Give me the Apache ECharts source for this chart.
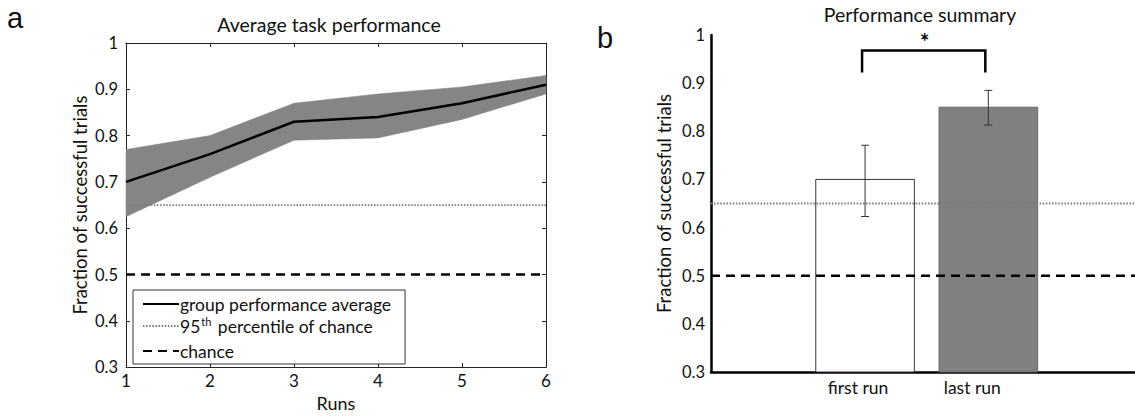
<!DOCTYPE html>
<html>
<head>
<meta charset="utf-8">
<script src="https://cdn.jsdelivr.net/npm/echarts@6/dist/echarts.min.js"></script>
<style>
html,body{margin:0;padding:0;background:#fff;}
#chart{width:1135px;height:417px;}
</style>
</head>
<body>
<div id="chart"></div>
<script>
// ---- Data ----
const runs = [1, 2, 3, 4, 5, 6];
const meanPerf = [0.70, 0.76, 0.83, 0.84, 0.87, 0.91];
const bandUpper = [0.77, 0.80, 0.87, 0.89, 0.905, 0.93];
const bandLower = [0.625, 0.71, 0.79, 0.795, 0.835, 0.89];
const chanceLevel = 0.5;
const chance95 = 0.65;

const summaryCats = ['first run', 'last run'];
const summaryPos = [1, 2];
const summaryMeans = [0.70, 0.85];
const summaryErrLow = [0.623, 0.813];
const summaryErrHigh = [0.771, 0.885];
const sigPair = [1, 2];
const sigLabel = '*';

const legendNames = ['group performance average', '95th percentile of chance', 'chance'];

// ---- Layout / style constants ----
const FONT = 'Lato';
const rightXMin = -0.25, rightXMax = 3.19;
const leftXMin = 1, leftXMax = 6;
const noSymbol = {color: 'rgba(0,0,0,0)', opacity: 0};
const dotStyle = {color: '#7a7a7a', width: 1.8, type: [1.5, 1.6]};
const dashStyle = {color: '#000', width: 2.5, type: [9, 6]};

const chart = echarts.init(document.getElementById('chart'), null, {renderer: 'svg'});

const meanData = runs.map((r, i) => [r, meanPerf[i]]);

const boxAxis = {
  axisLine: {show: true, onZero: false, lineStyle: {color: '#222', width: 1}},
  axisTick: {show: true, inside: true, length: 4, lineStyle: {color: '#222'}},
  splitLine: {show: false}
};

const option = {
  animation: false,
  textStyle: {fontFamily: FONT},
  grid: [
    {left: 126, top: 43, width: 420, height: 330},
    {left: 711, top: 35, right: 0, bottom: 45}
  ],
  xAxis: [
    Object.assign({}, boxAxis, {
      gridIndex: 0, type: 'value', min: leftXMin, max: leftXMax, interval: 1, position: 'bottom',
      axisLabel: {fontSize: 17, color: '#111', margin: 5, fontFamily: FONT},
      name: 'Runs', nameLocation: 'middle', nameGap: 25,
      nameTextStyle: {fontSize: 18, color: '#111', fontFamily: FONT}
    }),
    Object.assign({}, boxAxis, {
      gridIndex: 0, type: 'value', min: leftXMin, max: leftXMax, interval: 1, position: 'top',
      axisLabel: {show: false}
    }),
    {
      gridIndex: 1, type: 'value', min: rightXMin, max: rightXMax, position: 'bottom',
      axisLine: {show: true, onZero: false, lineStyle: {color: '#000', width: 2.5}},
      axisTick: {show: false}, axisLabel: {show: false}, splitLine: {show: false}
    }
  ],
  yAxis: [
    Object.assign({}, boxAxis, {
      gridIndex: 0, type: 'value', min: 0.3, max: 1, interval: 0.1, position: 'left',
      axisLabel: {fontSize: 16.5, color: '#111', margin: 8, fontFamily: FONT},
      name: 'Fraction of successful trials', nameLocation: 'middle', nameGap: 37,
      nameTextStyle: {fontSize: 18.5, color: '#111', fontFamily: FONT}
    }),
    Object.assign({}, boxAxis, {
      gridIndex: 0, type: 'value', min: 0.3, max: 1, interval: 0.1, position: 'right',
      axisLabel: {show: false}
    }),
    {
      gridIndex: 1, type: 'value', min: 0.3, max: 1, interval: 0.1, position: 'left',
      axisLine: {show: true, onZero: false, lineStyle: {color: '#000', width: 2.5}},
      axisTick: {show: false}, splitLine: {show: false},
      axisLabel: {fontSize: 16.5, color: '#111', margin: 6, fontFamily: FONT},
      name: 'Fraction of successful trials', nameLocation: 'middle', nameGap: 38,
      nameTextStyle: {fontSize: 18.5, color: '#111', fontFamily: FONT}
    }
  ],
  legend: {
    data: legendNames,
    orient: 'vertical',
    left: 133, top: 290,
    padding: [4, 14, 3, 9],
    itemGap: 2,
    itemWidth: 36, itemHeight: 14,
    backgroundColor: '#fff',
    borderColor: '#333', borderWidth: 1,
    itemStyle: {opacity: 0},
    textStyle: {
      fontSize: 17.5, color: '#111', fontFamily: FONT, lineHeight: 20, padding: [0, 0, 0, -4],
      rich: {
        sup: {fontSize: 11, fontFamily: FONT, color: '#111', verticalAlign: 'top', lineHeight: 12, padding: [0, 2, 12, 1]}
      }
    },
    formatter: function (name) {
      if (name.indexOf('95th') === 0) return '95{sup|th}' + name.slice(4);
      return name;
    }
  },
  graphic: [
    {type: 'text', x: 7, y: 18, style: {text: 'a', font: '29px "Liberation Sans"', fill: '#111', textVerticalAlign: 'middle'}},
    {type: 'text', x: 597, y: 38, style: {text: 'b', font: '29px "Liberation Sans"', fill: '#111', textVerticalAlign: 'middle'}},
    {type: 'text', x: 329, y: 24, style: {text: 'Average task performance', font: '19.5px ' + FONT, fill: '#111', textAlign: 'center', textVerticalAlign: 'middle'}},
    {type: 'text', x: 920, y: 14, style: {text: 'Performance summary', font: '19.5px ' + FONT, fill: '#111', textAlign: 'center', textVerticalAlign: 'middle'}}
  ],
  series: [
    {
      type: 'custom', xAxisIndex: 0, yAxisIndex: 0, data: [[0]], silent: true, z: 1,
      renderItem: function (params, api) {
        const top = runs.map((r, i) => api.coord([r, bandUpper[i]]));
        const bot = runs.map((r, i) => api.coord([r, bandLower[i]])).reverse();
        return {type: 'polygon', shape: {points: top.concat(bot)}, style: {fill: '#858585', stroke: '#858585', lineWidth: 0.5}};
      }
    },
    {
      name: legendNames[1], type: 'line', xAxisIndex: 0, yAxisIndex: 0,
      data: [[leftXMin, chance95], [leftXMax, chance95]],
      symbol: 'none', itemStyle: noSymbol, lineStyle: dotStyle, z: 3
    },
    {
      name: legendNames[2], type: 'line', xAxisIndex: 0, yAxisIndex: 0,
      data: [[leftXMin, chanceLevel], [leftXMax, chanceLevel]],
      symbol: 'none', itemStyle: noSymbol, lineStyle: dashStyle, z: 3
    },
    {
      name: legendNames[0], type: 'line', xAxisIndex: 0, yAxisIndex: 0, data: meanData,
      symbol: 'none', itemStyle: noSymbol, lineStyle: {color: '#000', width: 2.5}, z: 4
    },
    // right panel
    {
      type: 'custom', xAxisIndex: 2, yAxisIndex: 2,
      data: summaryPos.map((p, i) => [p, summaryMeans[i], i]),
      renderItem: function (params, api) {
        const x = api.value(0), y = api.value(1), i = api.value(2);
        const tl = api.coord([x - 0.4, y]);
        const br = api.coord([x + 0.4, 0.3]);
        const base = api.coord([x, 0.3]);
        const labelShift = [-7, -16][i];
        return {
          type: 'group',
          children: [
            {type: 'rect', shape: {x: tl[0], y: tl[1], width: br[0] - tl[0], height: br[1] - tl[1]},
             style: {fill: i === 0 ? '#fff' : '#808080', stroke: i === 0 ? '#333' : '#666', lineWidth: 1}},
            {type: 'text', x: base[0] + labelShift, y: base[1] + 6,
             style: {text: summaryCats[i], font: '17.5px ' + FONT, fill: '#111', textAlign: 'center', textVerticalAlign: 'top'}}
          ]
        };
      },
      z: 2
    },
    {
      type: 'line', xAxisIndex: 2, yAxisIndex: 2,
      data: [[rightXMin, chance95], [rightXMax, chance95]],
      symbol: 'none', lineStyle: dotStyle, z: 3
    },
    {
      type: 'line', xAxisIndex: 2, yAxisIndex: 2,
      data: [[rightXMin, chanceLevel], [rightXMax, chanceLevel]],
      symbol: 'none', lineStyle: dashStyle, z: 3
    },
    {
      type: 'custom', xAxisIndex: 2, yAxisIndex: 2,
      data: summaryPos.map((p, i) => [p, summaryErrLow[i], summaryErrHigh[i]]),
      renderItem: function (params, api) {
        const x = api.value(0);
        const lo = api.coord([x, api.value(1)]);
        const hi = api.coord([x, api.value(2)]);
        const cw = 4;
        const st = {stroke: '#333', lineWidth: 1};
        return {
          type: 'group',
          children: [
            {type: 'line', shape: {x1: lo[0], y1: lo[1], x2: hi[0], y2: hi[1]}, style: st},
            {type: 'line', shape: {x1: lo[0] - cw, y1: lo[1], x2: lo[0] + cw, y2: lo[1]}, style: st},
            {type: 'line', shape: {x1: hi[0] - cw, y1: hi[1], x2: hi[0] + cw, y2: hi[1]}, style: st}
          ]
        };
      },
      z: 5
    },
    {
      type: 'custom', xAxisIndex: 2, yAxisIndex: 2,
      data: [[sigPair[0], sigPair[1]]],
      renderItem: function (params, api) {
        const a = api.value(0), b = api.value(1);
        const aTop = api.coord([a, 0.968]), aBot = api.coord([a, 0.922]);
        const bTop = api.coord([b, 0.968]), bBot = api.coord([b, 0.922]);
        const st = {stroke: '#000', lineWidth: 2.5, fill: null};
        return {
          type: 'group',
          children: [
            {type: 'polyline', shape: {points: [[aBot[0] - 3, aBot[1]], [aTop[0] - 3, aTop[1]], [bTop[0] - 3, bTop[1]], [bBot[0] - 3, bBot[1]]]}, style: st},
            {type: 'text', x: (aTop[0] + bTop[0]) / 2 - 2, y: aTop[1] + 2,
             style: {text: sigLabel, font: 'bold 22px ' + FONT, fill: '#000', textAlign: 'center', textVerticalAlign: 'bottom'}}
          ]
        };
      },
      z: 5
    }
  ]
};
chart.setOption(option);
</script>
</body>
</html>
